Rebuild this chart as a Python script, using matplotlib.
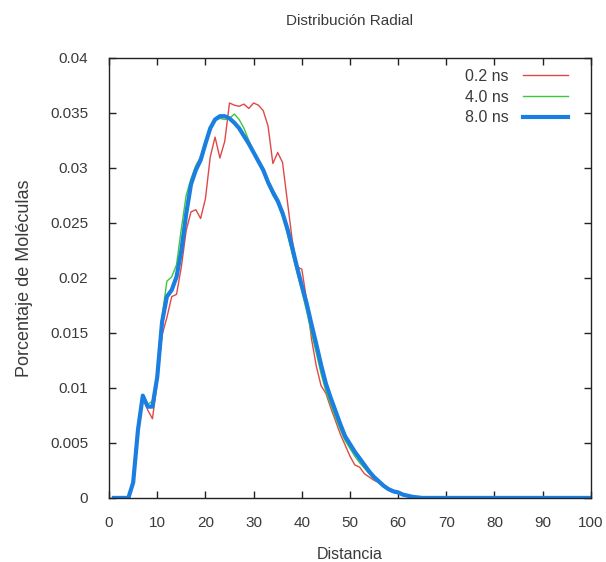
import numpy as np
import matplotlib
matplotlib.use("Agg")
import matplotlib.pyplot as plt

plt.rcParams['font.family'] = ['Liberation Sans', 'DejaVu Sans']

# Radial distance bins (1..100)
distancia = list(range(1, 101))

# Fraction of molecules per bin at each time
t_02ns = [0, 0, 0, 0, 0.0013, 0.0060, 0.0093, 0.0080, 0.0072, 0.0105,
          0.0148, 0.0164, 0.0183, 0.0185, 0.0210, 0.0243, 0.0260, 0.0262, 0.0254, 0.0272,
          0.0310, 0.0328, 0.0309, 0.0324, 0.0359, 0.0357, 0.0356, 0.0358, 0.0354, 0.0359,
          0.0357, 0.0352, 0.0338, 0.0304, 0.0314, 0.0305, 0.0270, 0.0235, 0.0210, 0.0208,
          0.0180, 0.0145, 0.0120, 0.0102, 0.0095, 0.0082, 0.0070, 0.0058, 0.0048, 0.0038,
          0.0030, 0.0028, 0.0022, 0.0019, 0.0016, 0.0014, 0.0011, 0.0008, 0.0006, 0.0004,
          0.0003, 0.0002, 0.0001] + [0] * 37

t_40ns = [0, 0, 0, 0, 0.0014, 0.0062, 0.0093, 0.0085, 0.0088, 0.0112,
          0.0165, 0.0197, 0.0201, 0.0212, 0.0245, 0.0275, 0.0290, 0.0302, 0.0310, 0.0325,
          0.0336, 0.0343, 0.0345, 0.0344, 0.0345, 0.0349, 0.0344, 0.0336, 0.0325, 0.0315,
          0.0305, 0.0296, 0.0285, 0.0275, 0.0268, 0.0256, 0.0240, 0.0222, 0.0205, 0.0188,
          0.0170, 0.0150, 0.0132, 0.0113, 0.0097, 0.0085, 0.0073, 0.0062, 0.0052, 0.0045,
          0.0038, 0.0032, 0.0027, 0.0022, 0.0017, 0.0014, 0.0010, 0.0007, 0.0005, 0.0004,
          0.0003, 0.0002, 0.0001] + [0] * 37

t_80ns = [0, 0, 0, 0, 0.0014, 0.0062, 0.0093, 0.0083, 0.0083, 0.0110,
          0.0160, 0.0183, 0.0189, 0.0201, 0.0225, 0.0258, 0.0285, 0.0298, 0.0307, 0.0322,
          0.0336, 0.0344, 0.0347, 0.0347, 0.0345, 0.0341, 0.0336, 0.0329, 0.0322, 0.0314,
          0.0306, 0.0298, 0.0287, 0.0278, 0.0270, 0.0259, 0.0245, 0.0228, 0.0210, 0.0193,
          0.0177, 0.0158, 0.0140, 0.0121, 0.0104, 0.0091, 0.0079, 0.0067, 0.0056, 0.0049,
          0.0042, 0.0036, 0.0030, 0.0024, 0.0019, 0.0015, 0.0011, 0.0008, 0.0006, 0.0005,
          0.0003, 0.0002, 0.0001, 0.00005] + [0] * 36

etiquetas = ['0.2 ns', '4.0 ns', '8.0 ns']
x_ticks = list(range(0, 101, 10))
y_ticks = [0, 0.005, 0.01, 0.015, 0.02, 0.025, 0.03, 0.035, 0.04]
y_tick_labels = ['0', '0.005', '0.01', '0.015', '0.02', '0.025', '0.03', '0.035', '0.04']

fig = plt.figure(figsize=(6.06, 5.62), dpi=100)
ax = fig.add_axes([0.180, 0.114, 0.795, 0.783])

ax.plot(distancia, t_02ns, color='#e04848', lw=1.0, label=etiquetas[0])
ax.plot(distancia, t_40ns, color='#3cc83c', lw=1.0, label=etiquetas[1])
ax.plot(distancia, t_80ns, color='#1a7fe0', lw=3.0, label=etiquetas[2],
        solid_joinstyle='round')

ax.set_xlim(0, 100)
ax.set_ylim(0, 0.04)
ax.set_xticks(x_ticks)
ax.set_yticks(y_ticks)
ax.set_yticklabels(y_tick_labels)

txt_color = '#3a3a3a'
ax.tick_params(direction='in', length=5, width=1, top=True, right=True,
               labelsize=11, colors='#222222', labelcolor=txt_color)
ax.tick_params(axis='x', pad=13)
ax.tick_params(axis='y', pad=15)
for s in ax.spines.values():
    s.set_linewidth(1.0)
    s.set_color('#222222')

ax.set_title('Distribución Radial', fontsize=11, color=txt_color, pad=24)
ax.set_xlabel('Distancia', fontsize=11.5, color=txt_color, labelpad=12)
ax.set_ylabel('Porcentaje de Moléculas', fontsize=13, color=txt_color, labelpad=12)

leg = ax.legend(loc='upper right', frameon=False, markerfirst=False,
                fontsize=11.5, handlelength=2.8, handletextpad=0.9,
                labelspacing=0.35, borderaxespad=0.3,
                bbox_to_anchor=(0.975, 1.0))
for t in leg.get_texts():
    t.set_color(txt_color)

fig.savefig('out.png', dpi=100, facecolor='white')
